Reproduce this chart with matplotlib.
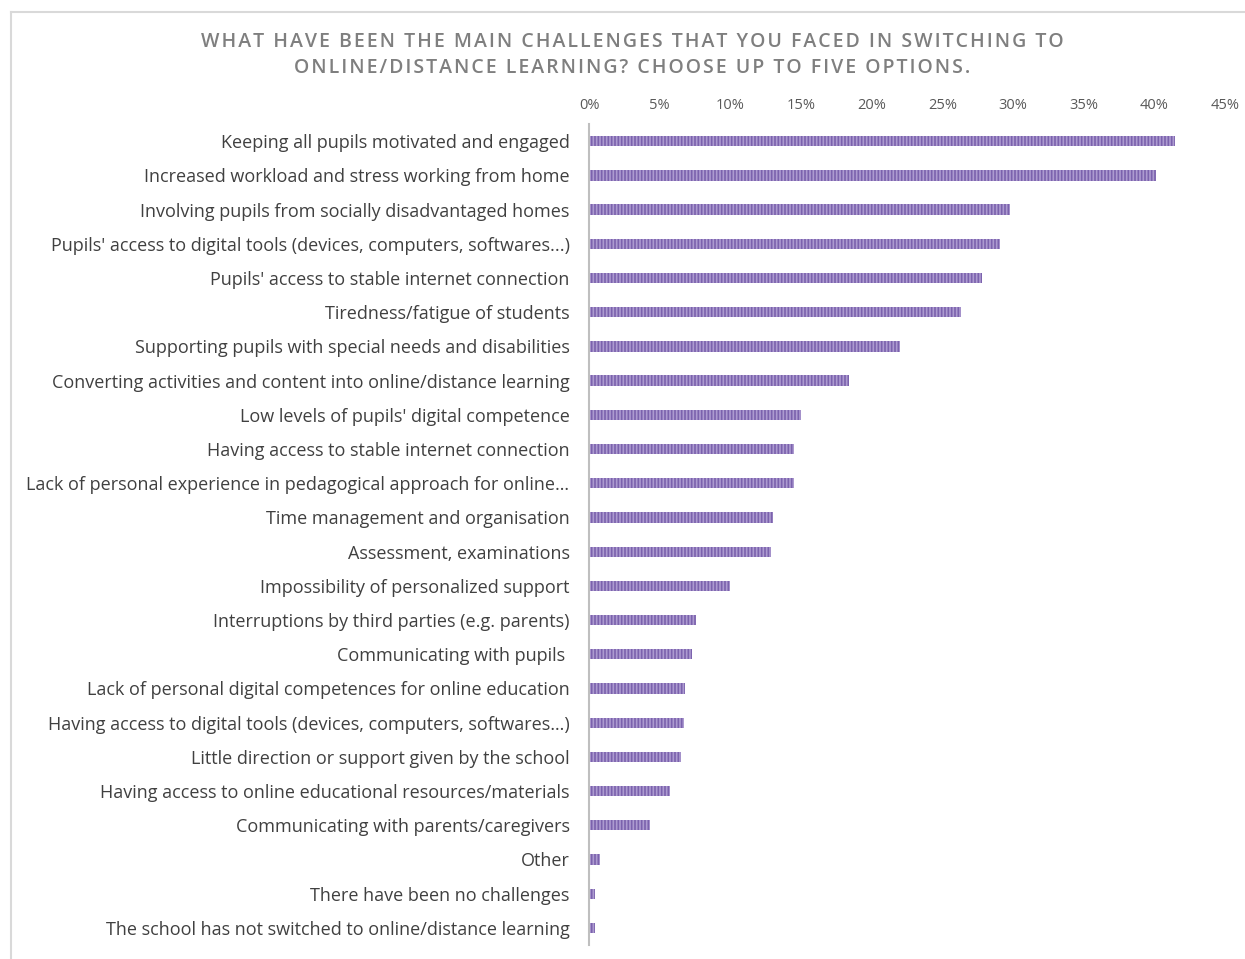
import matplotlib
matplotlib.use("Agg")
import matplotlib.pyplot as plt
from matplotlib.lines import Line2D
from matplotlib.ticker import MultipleLocator, PercentFormatter

categories = [
    "Keeping all pupils motivated and engaged",
    "Increased workload and stress working from home",
    "Involving pupils from socially disadvantaged homes",
    "Pupils' access to digital tools (devices, computers, softwares...)",
    "Pupils' access to stable internet connection",
    "Tiredness/fatigue of students",
    "Supporting pupils with special needs and disabilities",
    "Converting activities and content into online/distance learning",
    "Low levels of pupils' digital competence",
    "Having access to stable internet connection",
    "Lack of personal experience in pedagogical approach for online\u2026",
    "Time management and organisation",
    "Assessment, examinations",
    "Impossibility of personalized support",
    "Interruptions by third parties (e.g. parents)",
    "Communicating with pupils ",
    "Lack of personal digital competences for online education",
    "Having access to digital tools (devices, computers, softwares\u2026)",
    "Little direction or support given by the school",
    "Having access to online educational resources/materials",
    "Communicating with parents/caregivers",
    "Other",
    "There have been no challenges",
    "The school has not switched to online/distance learning",
]
shares = [41.5, 40.1, 29.8, 29.1, 27.8, 26.3, 22.0, 18.4, 15.0, 14.5, 14.5,
          13.0, 12.9, 10.0, 7.6, 7.3, 6.8, 6.7, 6.5, 5.7, 4.3, 0.8, 0.4, 0.4]
title_lines = [
    "WHAT HAVE BEEN THE MAIN CHALLENGES THAT YOU FACED IN SWITCHING TO",
    "ONLINE/DISTANCE LEARNING? CHOOSE UP TO FIVE OPTIONS.",
]


def spaced(text, gap="\u200a"):
    """Widen letter spacing by putting a hair space between characters."""
    return gap.join(text)


plt.rcParams["font.family"] = ["Open Sans", "DejaVu Sans"]
plt.rcParams["hatch.linewidth"] = 1.2

fig = plt.figure(figsize=(12.45, 9.59), dpi=100)
ax = fig.add_axes([0.4731, 0.0146, 0.5108, 0.856])

ypos = list(range(len(categories)))
ax.barh(ypos, shares, height=0.3, color="#ad9bd0",
        edgecolor="#7b62ad", hatch="|||||", linewidth=0)

ax.set_ylim(len(categories) - 0.5, -0.5)
ax.set_xlim(0, 45)
ax.xaxis.set_major_locator(MultipleLocator(5))
ax.xaxis.set_major_formatter(PercentFormatter(decimals=0))
ax.xaxis.tick_top()
ax.tick_params(axis="x", length=0, pad=8, labelsize=10.5, labelcolor="#595959")
ax.set_yticks(ypos)
ax.set_yticklabels(categories)
ax.tick_params(axis="y", length=0, pad=14, labelsize=13, labelcolor="#404040")

for side in ("top", "right", "bottom"):
    ax.spines[side].set_visible(False)
ax.spines["left"].set_color("#bfbfbf")
ax.spines["left"].set_linewidth(1.5)

fig.text(0.508, 0.943, "\n".join(spaced(l) for l in title_lines),
         ha="center", va="center", fontsize=14, fontweight="semibold",
         color="#7f7f7f", linespacing=1.4)

# chart frame
fig.add_artist(Line2D([0.009, 1.0], [0.9875, 0.9875], transform=fig.transFigure,
                      color="#d9d9d9", linewidth=1.5))
fig.add_artist(Line2D([0.009, 0.009], [0.0, 0.9875], transform=fig.transFigure,
                      color="#d9d9d9", linewidth=1.5))

fig.savefig("out.png", dpi=100, facecolor="white")
